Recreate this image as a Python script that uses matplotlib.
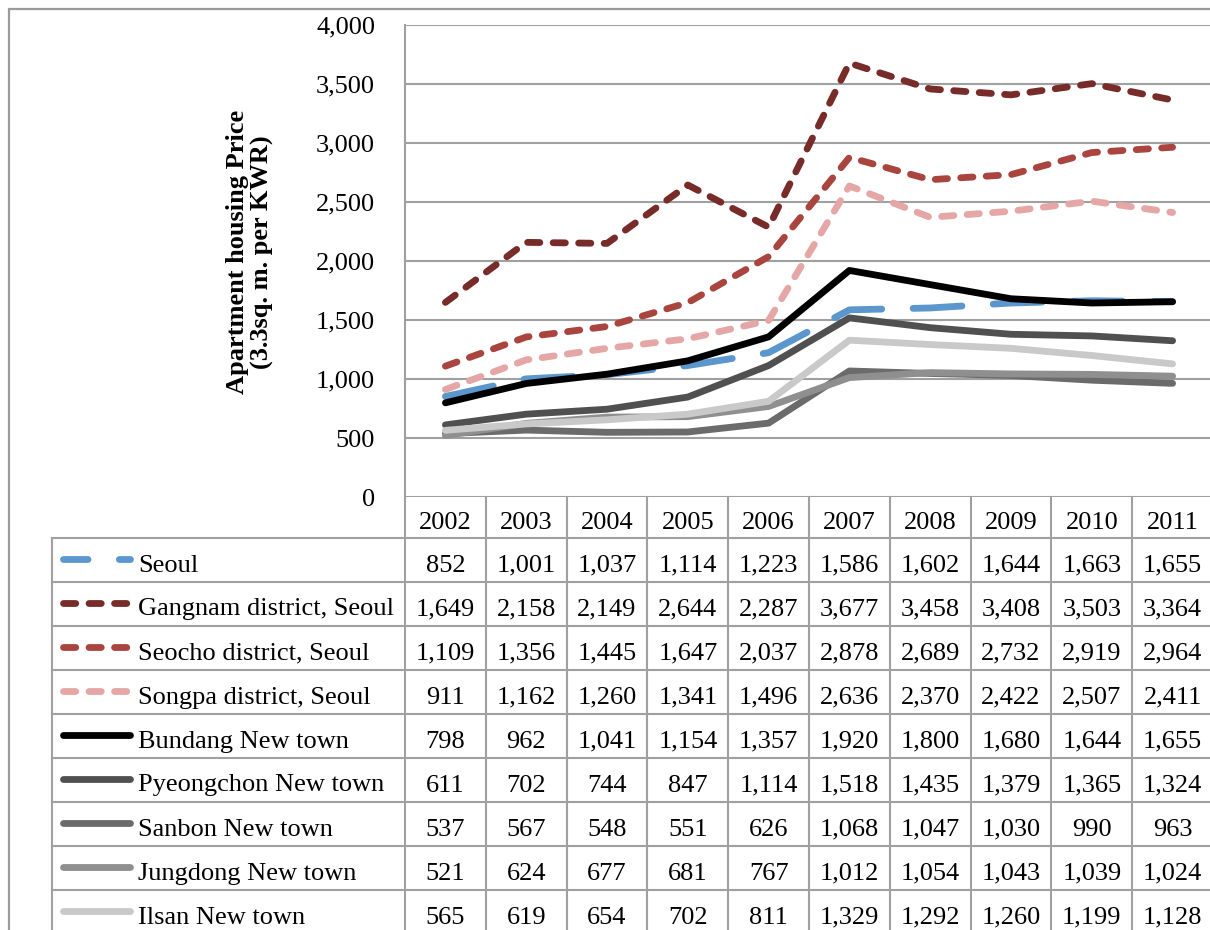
import matplotlib
matplotlib.use('Agg')
import matplotlib.pyplot as plt
from matplotlib.lines import Line2D
from matplotlib.patches import Rectangle
from matplotlib.ticker import FuncFormatter
from matplotlib.transforms import blended_transform_factory

plt.rcParams['font.family'] = ['Liberation Serif', 'DejaVu Serif']

# ── Data: apartment price per 3.3 sq. m. (10,000 KRW) ────────────────────────
years = [2002, 2003, 2004, 2005, 2006, 2007, 2008, 2009, 2010, 2011]

names = ['Seoul', 'Gangnam district, Seoul', 'Seocho district, Seoul',
         'Songpa district, Seoul', 'Bundang New town', 'Pyeongchon New town',
         'Sanbon New town', 'Jungdong New town', 'Ilsan New town']

seoul      = [852, 1001, 1037, 1114, 1223, 1586, 1602, 1644, 1663, 1655]
gangnam    = [1649, 2158, 2149, 2644, 2287, 3677, 3458, 3408, 3503, 3364]
seocho     = [1109, 1356, 1445, 1647, 2037, 2878, 2689, 2732, 2919, 2964]
songpa     = [911, 1162, 1260, 1341, 1496, 2636, 2370, 2422, 2507, 2411]
bundang    = [798, 962, 1041, 1154, 1357, 1920, 1800, 1680, 1644, 1655]
pyeongchon = [611, 702, 744, 847, 1114, 1518, 1435, 1379, 1365, 1324]
sanbon     = [537, 567, 548, 551, 626, 1068, 1047, 1030, 990, 963]
jungdong   = [521, 624, 677, 681, 767, 1012, 1054, 1043, 1039, 1024]
ilsan      = [565, 619, 654, 702, 811, 1329, 1292, 1260, 1199, 1128]

series = [seoul, gangnam, seocho, songpa, bundang,
          pyeongchon, sanbon, jungdong, ilsan]

colors = ['#5B96CC', '#772C2A', '#A9443F', '#E5A7A6', '#000000',
          '#505050', '#6B6B6B', '#8F8F8F', '#C9C9C9']

LONG = (0, (7.2, 4.6))
SHORT = (0, (1.8, 1.95))
styles = [LONG, SHORT, SHORT, SHORT, '-', '-', '-', '-', '-']
# legend swatches start part-way into the long dash
legend_styles = [(3.6, (7.2, 4.6)), SHORT, SHORT, SHORT, '-', '-', '-', '-', '-']

# ── Layout (pixels, measured from the top-left corner) ───────────────────────
W, H = 1210, 930
PL, PT, PW, PH = 405, 25, 808, 472          # plot area
HEADER_BOTTOM = 538                          # bottom of the year row
ROW_H = 44
LABEL_LEFT = 52
FS = 19
LW = 4.9
GRID = '#A0A0A0'

fig = plt.figure(figsize=(W / 100, H / 100), dpi=100)
ax = fig.add_axes([PL / W, (H - PT - PH) / H, PW / W, PH / H])


def axx(px):
    return (px - PL) / PW


def axy(py):
    return (PT + PH - py) / PH


# outer frame (runs off the right and bottom edges)
fig.add_artist(Rectangle((9 / W, -0.2), 2.0, (H - 9) / H + 0.2,
                         transform=fig.transFigure, fill=False,
                         edgecolor='#9A9A9A', lw=1.6))

# ── Lines ─────────────────────────────────────────────────────────────────────
x = list(range(len(years)))
for vals, col, ls in zip(series, colors, styles):
    ax.plot(x, vals, color=col, lw=LW, linestyle=ls,
            dash_capstyle='round', solid_capstyle='round',
            dash_joinstyle='round', solid_joinstyle='round')

ax.set_xlim(-0.5, len(years) - 0.5)
ax.set_ylim(0, 4000)
ax.set_yticks(range(0, 4001, 500))
ax.yaxis.set_major_formatter(FuncFormatter(lambda v, p: f'{int(v):,}'))
ax.tick_params(axis='y', length=0, pad=21.5, labelsize=FS)
ax.set_xticks([])
ax.grid(axis='y', color=GRID, lw=1.5)
ax.set_axisbelow(True)
for side in ['top', 'right', 'bottom']:
    ax.spines[side].set_visible(False)
ax.spines['left'].set_color(GRID)
ax.spines['left'].set_linewidth(1.5)

ax.text(axx(250), axy(252), 'Apartment housing Price\n(3.3sq. m. per KWR)',
        transform=ax.transAxes, rotation=90, ha='center', va='center',
        multialignment='center', fontsize=FS, fontweight='bold',
        linespacing=1.05)

# ── Data table under the plot ─────────────────────────────────────────────────
col_tr = blended_transform_factory(ax.transData, ax.transAxes)
n_rows = len(series)
table_bottom = axy(HEADER_BOTTOM + ROW_H * (n_rows + 1))

# column separators (also through the year row)
for i in range(len(years) + 1):
    ax.add_artist(Line2D([i - 0.5, i - 0.5], [0, table_bottom],
                         transform=col_tr, color=GRID, lw=1.5, clip_on=False))
# row separators
for k in range(n_rows + 1):
    yk = axy(HEADER_BOTTOM + ROW_H * k)
    ax.add_artist(Line2D([axx(LABEL_LEFT), 1.2], [yk, yk],
                         transform=ax.transAxes, color=GRID, lw=1.5,
                         clip_on=False))
# left edge of the label column
ax.add_artist(Line2D([axx(LABEL_LEFT), axx(LABEL_LEFT)],
                     [axy(HEADER_BOTTOM), table_bottom],
                     transform=ax.transAxes, color=GRID, lw=1.5, clip_on=False))

# year row
for i, yr in enumerate(years):
    ax.text(i, axy(HEADER_BOTTOM - 9), str(yr), transform=col_tr,
            ha='center', va='baseline', fontsize=FS, clip_on=False)

# series rows: swatch, name, values
for k, (name, vals, col, ls) in enumerate(zip(names, series, colors,
                                               legend_styles)):
    top = HEADER_BOTTOM + ROW_H * k
    yc = axy(top + ROW_H / 2 - 1)
    ax.add_artist(Line2D([axx(63), axx(130)], [yc, yc], transform=ax.transAxes,
                         color=col, lw=LW, linestyle=ls,
                         dash_capstyle='round', solid_capstyle='round',
                         clip_on=False))
    base = axy(top + 33.5)
    ax.text(axx(138), base, name, transform=ax.transAxes, ha='left',
            va='baseline', fontsize=FS, clip_on=False)
    for i, v in enumerate(vals):
        ax.text(i, base, f'{v:,}', transform=col_tr, ha='center',
                va='baseline', fontsize=FS, clip_on=False)

fig.savefig('out.png', dpi=100)
